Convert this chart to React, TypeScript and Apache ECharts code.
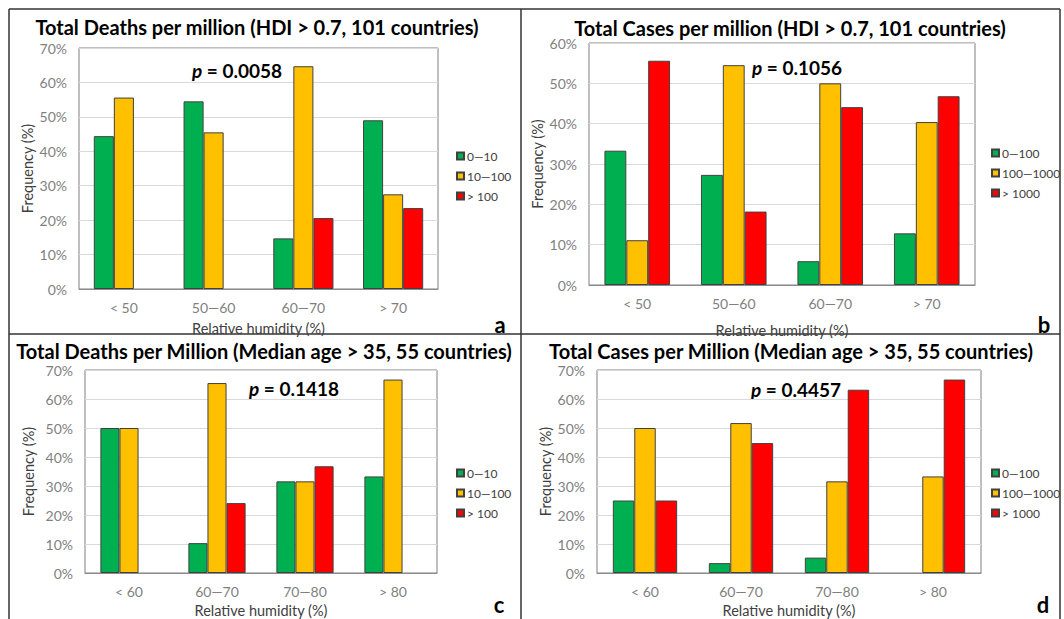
import React, { useEffect, useRef } from "react";
import * as echarts from "echarts";

const catsAB = ["< 50", "50—60", "60—70", "> 70"];
const catsCD = ["< 60", "60—70", "70—80", "> 80"];
const deathBins = ["0—10", "10—100", "> 100"];
const caseBins = ["0—100", "100—1000", "> 1000"];

// Panel a: deaths, HDI > 0.7
const aLow = [44.4, 54.5, 14.7, 49.0];
const aMid = [55.6, 45.5, 64.7, 27.5];
const aHigh = [0, 0, 20.6, 23.5];
// Panel b: cases, HDI > 0.7
const bLow = [33.3, 27.3, 5.9, 12.8];
const bMid = [11.1, 54.5, 50.0, 40.4];
const bHigh = [55.6, 18.2, 44.1, 46.8];
// Panel c: deaths, median age > 35
const cLow = [50.0, 10.3, 31.6, 33.3];
const cMid = [50.0, 65.5, 31.6, 66.7];
const cHigh = [0, 24.1, 36.8, 0];
// Panel d: cases, median age > 35
const dLow = [25.0, 3.4, 5.3, 0];
const dMid = [50.0, 51.7, 31.6, 33.3];
const dHigh = [25.0, 44.8, 63.2, 66.7];

const titles = [
  "Total Deaths per million (HDI > 0.7, 101 countries)",
  "Total Cases per million (HDI > 0.7, 101 countries)",
  "Total Deaths per Million (Median age > 35, 55 countries)",
  "Total Cases per Million (Median age > 35, 55 countries)",
];
const pValues = ["0.0058", "0.1056", "0.1418", "0.4457"];
const panelLetters = ["a", "b", "c", "d"];
const yMax = [70, 60, 70, 70];

const COLORS = ["#00B050", "#FFC000", "#FF0000"];
const FONT = "Lato, 'Noto Sans', sans-serif";

export default function App() {
  const ref = useRef<HTMLDivElement>(null);
  useEffect(() => {
    document.body.style.margin = "0";
    const chart = echarts.init(ref.current!, null, { renderer: "svg" });

    const grids = [
      { left: 79, top: 48, width: 359, height: 241 },
      { left: 589, top: 43, width: 386, height: 242 },
      { left: 85, top: 370, width: 352, height: 208 },
      { left: 597, top: 370, width: 384, height: 209 },
    ];
    const catGaps = ["33%", "32%", "35%", "33%"];
    const yNameGaps = [44, 44, 49, 44];
    const xNameGaps = [32, 38, 30, 30];
    const panelData = [
      [aLow, aMid, aHigh],
      [bLow, bMid, bHigh],
      [cLow, cMid, cHigh],
      [dLow, dMid, dHigh],
    ];
    const bins = [deathBins, caseBins, deathBins, caseBins];
    const cats = [catsAB, catsAB, catsCD, catsCD];

    const series: any[] = [];
    panelData.forEach((group, gi) => {
      group.forEach((vals, si) => {
        series.push({
          type: "bar",
          name: bins[gi][si],
          xAxisIndex: gi,
          yAxisIndex: gi,
          data: vals.map((v) => (v === 0 ? "-" : v)),
          barGap: "0%",
          barCategoryGap: catGaps[gi],
          itemStyle: { color: COLORS[si], borderColor: "#404040", borderWidth: 1 },
        });
      });
    });

    const legendPos = [
      { left: 451, top: 145 },
      { left: 986, top: 142 },
      { left: 451, top: 462 },
      { left: 986, top: 462 },
    ];

    const titlePos = [
      [257, 27],
      [790, 28],
      [264, 351],
      [791, 351],
    ];
    const pPos = [
      [192, 70],
      [752, 67],
      [249, 388],
      [751, 389],
    ];
    const letterPos = [
      [500, 324],
      [1044, 324],
      [499, 604],
      [1043, 604],
    ];

    const graphic: any[] = [];
    const frame = [
      [9, 9, 1060, 9],
      [9, 9, 9, 619],
      [1060, 9, 1060, 619],
      [521, 9, 521, 619],
      [9, 334, 1060, 334],
    ];
    frame.forEach(([x1, y1, x2, y2]) =>
      graphic.push({
        type: "line",
        shape: { x1, y1, x2, y2 },
        style: { stroke: "#333", lineWidth: 1.5 },
        silent: true,
      })
    );
    titles.forEach((t, i) => {
      graphic.push({
        type: "text",
        x: titlePos[i][0],
        y: titlePos[i][1],
        style: {
          text: t,
          font: `bold 20px ${FONT}`,
          fill: "#000",
          align: "center",
          verticalAlign: "middle",
        },
      });
      graphic.push({
        type: "text",
        x: pPos[i][0],
        y: pPos[i][1],
        style: {
          text: `{i|p} = ${pValues[i]}`,
          font: `bold 19px ${FONT}`,
          fill: "#000",
          align: "left",
          verticalAlign: "middle",
          rich: {
            i: { fontStyle: "italic", fontWeight: "bold", fontSize: 19, fontFamily: FONT, fill: "#000" },
          },
        },
      });
      graphic.push({
        type: "text",
        x: letterPos[i][0],
        y: letterPos[i][1],
        style: {
          text: panelLetters[i],
          font: `bold 22px ${FONT}`,
          fill: "#000",
          align: "center",
          verticalAlign: "middle",
        },
      });
    });

    chart.setOption({
      animation: false,
      backgroundColor: "#fff",
      textStyle: { fontFamily: FONT },
      grid: grids.map((g) => ({
        ...g,
        show: true,
        borderColor: "#7f7f7f",
        borderWidth: 1,
        backgroundColor: "#fff",
        containLabel: false,
      })),
      xAxis: cats.map((c, i) => ({
        type: "category",
        gridIndex: i,
        data: c,
        axisTick: { show: false },
        axisLine: { lineStyle: { color: "#8c8c8c", width: 1 } },
        axisLabel: { color: "#7f7f7f", fontSize: 14, margin: 11, fontFamily: FONT },
        name: "Relative humidity (%)",
        nameLocation: "middle",
        nameGap: xNameGaps[i],
        nameTextStyle: { color: "#404040", fontSize: 14.5, fontFamily: FONT },
      })),
      yAxis: yMax.map((m, i) => ({
        type: "value",
        gridIndex: i,
        min: 0,
        max: m,
        interval: 10,
        axisLine: { show: false },
        axisTick: { show: false },
        splitLine: { lineStyle: { color: "#d9d9d9", width: 1 } },
        axisLabel: { formatter: "{value}%", color: "#7f7f7f", fontSize: 14, margin: 12, fontFamily: FONT },
        name: "Frequency (%)",
        nameLocation: "middle",
        nameGap: yNameGaps[i],
        nameTextStyle: { color: "#404040", fontSize: 14.5, fontFamily: FONT },
      })),
      legend: bins.map((b, i) => ({
        data: b,
        orient: "vertical",
        left: legendPos[i].left,
        top: legendPos[i].top,
        icon: "rect",
        itemWidth: 7,
        itemHeight: 7,
        itemGap: 8,
        textStyle: { color: "#404040", fontSize: 12, fontFamily: FONT, padding: [0, 0, 0, -2] },
        selectedMode: false,
      })),
      series,
      graphic,
    });
    return () => chart.dispose();
  }, []);
  return <div ref={ref} style={{ width: 1064, height: 619 }} />;
}
